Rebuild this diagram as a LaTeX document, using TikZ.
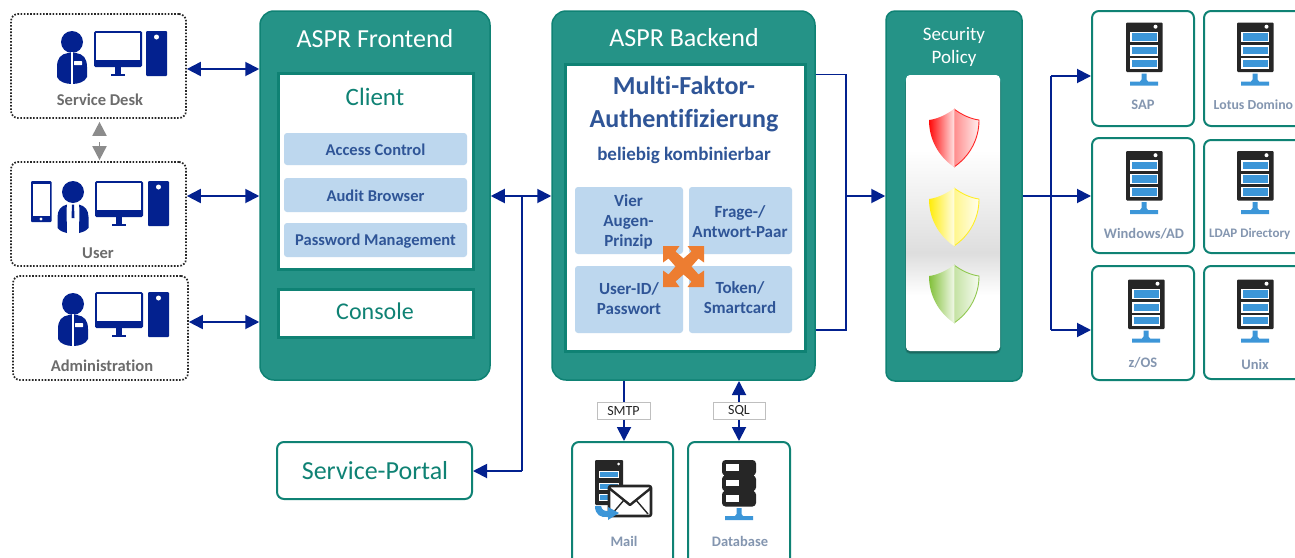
\documentclass[tikz,border=0pt]{standalone}
\usepackage{fontspec}
\setmainfont[Ligatures=NoCommon]{Carlito}
\usetikzlibrary{arrows.meta,calc}
\definecolor{teal1}{HTML}{259387}
\definecolor{teal2}{HTML}{0F8274}
\definecolor{navy}{HTML}{03218F}
\definecolor{cell}{HTML}{BDD7EE}
\definecolor{ctext}{HTML}{2F5597}
\definecolor{glabel}{HTML}{7F7F7F}
\definecolor{slabel}{HTML}{8496B0}
\definecolor{dark}{HTML}{262626}
\definecolor{netblue}{HTML}{3C96D8}
\definecolor{orng}{HTML}{ED7D31}
\definecolor{shgreen}{HTML}{7DBE32}
\definecolor{shyellow}{HTML}{FFEB00}
\newcommand{\bx}[6]{%
  \pgfmathsetmacro{\bcx}{(#2+#4)/2}\pgfmathsetmacro{\bcy}{(#3+#5)/2}%
  \pgfmathsetmacro{\bw}{#4-#2}\pgfmathsetmacro{\bh}{#5-#3}%
  \node[#6,minimum width=\bw pt,minimum height=\bh pt] (#1) at (\bcx,\bcy) {};}
\newcommand{\monitor}[2]{\begin{scope}[shift={(#1,#2)}]
  \fill[navy,rounded corners=1.5] (0,0) rectangle (48,36);
  \fill[white] (2,2) rectangle (46,28.5);
  \fill[navy] (21,36) rectangle (27,43);
  \fill[navy] (17,43) rectangle (31,45);
\end{scope}}
\newcommand{\tower}[2]{\begin{scope}[shift={(#1,#2)}]
  \fill[navy,rounded corners=1] (0,0) rectangle (21,45);
  \fill[white] (10.5,6) circle (2.5);
\end{scope}}
\newcommand{\deskperson}[2]{\begin{scope}[shift={(#1,#2)}]
  \fill[navy] (0,0) circle (11);
  \fill[navy] (-4,11) .. controls (-11,12) and (-15,16) .. (-15,25) -- (-15,35) .. controls (-13,40) and (-6,42) .. (0,42) .. controls (6,42) and (13,40) .. (15,35) -- (15,25) .. controls (15,16) and (11,12) .. (4,11) -- cycle;
  \fill[white] (-0.8,10) rectangle (0.8,43);
  \fill[white,rounded corners=0.5] (2,19) rectangle (10,23);
\end{scope}}
\newcommand{\tieperson}[2]{\begin{scope}[shift={(#1,#2)}]
  \fill[navy] (0,0) circle (11);
  \fill[navy] (-6,12.5) .. controls (-12,14) and (-15.5,18) .. (-15.5,25) -- (-15.5,36) .. controls (-13,39) and (-10,40) .. (-6,41) .. controls (-6,30) and (-7,20) .. cycle;
  \fill[navy] (6,12.5) .. controls (12,14) and (15.5,18) .. (15.5,25) -- (15.5,36) .. controls (13,39) and (10,40) .. (6,41) .. controls (6,30) and (7,20) .. cycle;
  \fill[navy] (-1,12.5) -- (1,12.5) -- (1.5,26) -- (-1.5,26) -- cycle;
\end{scope}}
\newcommand{\netmark}[2]{\begin{scope}[shift={(#1,#2)}]
  \fill[netblue] (-2.5,0) -- (2.5,0) -- (2.5,6) -- (4,8) -- (14,8) -- (14,12) -- (-14,12) -- (-14,8) -- (-4,8) -- (-2.5,6) -- cycle;
\end{scope}}
\newcommand{\servericon}[2]{\begin{scope}[shift={(#1,#2)}]
  \fill[dark,rounded corners=1] (0,0) rectangle (36.5,49.5);
  \fill[white] (29.5,4.2) circle (2);
  \foreach \yy in {10,23.5,36.5}{
    \fill[netblue,draw=white,line width=1.1] (5,\yy) rectangle (31.5,\yy+9);}
  \netmark{18}{51}
\end{scope}}
\newcommand{\shield}[2]{\begin{scope}[shift={(954,#1)}]
  \begin{scope}
   \clip (0,0) .. controls (-8,6) and (-17,10) .. (-25,11) .. controls (-25,30) and (-16,47) .. (0,58) -- cycle;
   \shade[shading angle=60,left color=#2,middle color=#2!75!white,right color=#2!12!white] (-26,0) rectangle (0,58);
  \end{scope}
  \begin{scope}
   \clip (0,0) .. controls (8,6) and (17,10) .. (25,11) .. controls (25,30) and (16,47) .. (0,58) -- cycle;
   \shade[shading angle=100,left color=#2!45!white,right color=#2!5!white] (0,0) rectangle (26,58);
  \end{scope}
  \draw[#2!85!white,line width=0.9] (0,0) .. controls (8,6) and (17,10) .. (25,11) .. controls (25,30) and (16,47) .. (0,58);
  \draw[#2!35!white,line width=0.5] (0,0) -- (0,58);
\end{scope}}
\tikzset{
  arr/.style={navy,line width=1.9,-{Triangle[length=14pt,width=14pt]}},
  darr/.style={navy,line width=1.9,{Triangle[length=14pt,width=14pt]}-{Triangle[length=14pt,width=14pt]}},
  plain/.style={navy,line width=1.9},
  dotbox/.style={draw=black!85,line width=1.7,dash pattern=on 1.6pt off 1.6pt,rounded corners=7,fill=white,inner sep=0},
  tealbox/.style={draw=teal2,line width=1.5,fill=teal1,rounded corners=14,inner sep=0},
  tealbox2/.style={draw=teal2,line width=1.5,fill=teal1,rounded corners=9,inner sep=0},
  innerbox/.style={draw=teal2,line width=3,fill=white,inner sep=0},
  outbox/.style={draw=teal2,line width=2,fill=white,rounded corners=7,inner sep=0},
  cellbox/.style={fill=cell,rounded corners=3,inner sep=0},
  protobox/.style={draw=black!25,line width=0.8,fill=white,inner sep=0},
  graylbl/.style={text=glabel!85!black,font=\bfseries\fontsize{16.5}{18}\selectfont,inner sep=0},
  srvlbl/.style={text=slabel,font=\bfseries\fontsize{14.5}{16}\selectfont,inner sep=0},
  celllbl/.style={text=ctext,font=\bfseries\fontsize{17}{20}\selectfont,align=center,inner sep=0},
  listlbl/.style={text=ctext,font=\bfseries\fontsize{16.5}{20}\selectfont,inner sep=0},
  whitelbl/.style={text=white,font=\fontsize{26}{28}\selectfont,inner sep=0},
  teallbl/.style={text=teal2,font=\fontsize{25}{28}\selectfont,inner sep=0},
}
\begin{document}
\begin{tikzpicture}[x=1pt,y=-1pt]
\clip (0,0) rectangle (1295,557);
\fill[white] (0,0) rectangle (1295,557);
% left boxes
\bx{sd}{11}{14}{186}{118}{dotbox}
\bx{us}{11}{162}{186}{266}{dotbox}
\bx{ad}{13}{276}{188}{380}{dotbox}
\deskperson{72}{42}
\monitor{94}{31}
\tower{146}{31}
\node[graylbl] (sdl) at (100,100) {Service Desk};
\fill[navy,rounded corners=1] (31,181) rectangle (51.5,222);
\fill[white] (33,184) rectangle (49.5,215.5);
\fill[white] (41,219) circle (1.6);
\tieperson{73}{192}
\monitor{95}{181}
\tower{148}{181}
\node[graylbl] (usl) at (98,253) {User};
\deskperson{73}{304}
\monitor{95}{292}
\tower{148}{292}
\node[graylbl] (adl) at (102,366) {Administration};
% frontend
\bx{fe}{260}{11}{490}{380}{tealbox}
\node[whitelbl] (fet) at (375,39) {ASPR Frontend};
\bx{cl}{278}{73}{473}{269}{innerbox}
\node[teallbl] (clt) at (375,97) {Client};
\bx{c1}{284}{133}{467}{165}{cellbox}
\bx{c2}{284}{178}{467}{212}{cellbox}
\bx{c3}{284}{223}{467}{257}{cellbox}
\node[listlbl] at ([yshift=-1pt]c1.center) {Access Control};
\node[listlbl] at ([yshift=-1pt]c2.center) {Audit Browser};
\node[listlbl] at ([yshift=-1pt]c3.center) {Password Management};
\bx{co}{278}{289}{473}{337}{innerbox}
\node[text=teal2,font=\fontsize{24}{28}\selectfont,inner sep=0] (cot) at (375,311) {Console};
% backend
\bx{be}{552}{11}{815}{380}{tealbox}
\node[whitelbl] (bet) at (684,38) {ASPR Backend};
\bx{bi}{565}{64}{805}{351}{innerbox}
\node[text=ctext,font=\bfseries\fontsize{26}{33}\selectfont,align=center,inner sep=0] (mf) at (684,104) {Multi-Faktor-\\Authentifizierung};
\node[text=ctext,font=\bfseries\fontsize{19}{22}\selectfont,inner sep=0] (bk) at (684,155) {beliebig kombinierbar};
\bx{q1}{575}{187}{683}{254}{cellbox}
\bx{q2}{689}{187}{792}{254}{cellbox}
\bx{q3}{575}{266}{683}{333}{cellbox}
\bx{q4}{689}{266}{792}{333}{cellbox}
\node[celllbl] at (628.5,222) {Vier\\Augen-\\Prinzip};
\node[celllbl] at (740,222) {Frage-/\\Antwort-Paar};
\node[celllbl] at (629,299) {User-ID/\\Passwort};
\node[celllbl] at (740,298) {Token/\\Smartcard};
\fill[orng,shift={(683.5,266.5)}] (-20.5,-20.5) -- (-4,-20.5) -- (-8,-15) -- (0,-8) -- (8,-15) -- (4,-20.5) -- (20.5,-20.5) -- (20.5,-4) -- (15,-8) -- (8,0) -- (15,8) -- (20.5,4) -- (20.5,20.5) -- (4,20.5) -- (8,15) -- (0,8) -- (-8,15) -- (-4,20.5) -- (-20.5,20.5) -- (-20.5,4) -- (-15,8) -- (-8,0) -- (-15,-8) -- (-20.5,-4) -- cycle;
% security
\bx{se}{886}{11}{1022}{381}{tealbox2}
\node[text=white,font=\fontsize{19}{23}\selectfont,align=center,inner sep=0] (set) at (954,47) {Security\\Policy};
\fill[black,opacity=0.12,rounded corners=5] (905,78) rectangle (1001,354);
\fill[black,opacity=0.18,rounded corners=4] (906,78) rectangle (1000,353);
\fill[white,rounded corners=4] (906,75) rectangle (1000,351);
\begin{scope}
\clip[rounded corners=4] (906,75) rectangle (1000,351);
\shade[top color=white,bottom color=black!13] (906,150) rectangle (1000,253);
\shade[top color=black!13,bottom color=white] (906,253) rectangle (1000,295);
\end{scope}
\shield{109}{red}
\shield{188}{shyellow}
\shield{265}{shgreen}
% server boxes
\bx{s1}{1092}{11}{1194}{126}{outbox}
\bx{s2}{1204}{11}{1306}{126}{outbox}
\bx{s3}{1092}{138}{1194}{253}{outbox}
\bx{s4}{1204}{140}{1306}{253}{outbox}
\bx{s5}{1092}{266}{1194}{380}{outbox}
\bx{s6}{1204}{266}{1306}{379}{outbox}
\servericon{1126}{22.5}
\servericon{1237}{22.5}
\servericon{1126}{151}
\servericon{1237}{151}
\servericon{1128}{279.5}
\servericon{1237}{279.5}
\node[srvlbl] at (1143,105) {SAP};
\node[srvlbl,font=\bfseries\fontsize{13.8}{16}\selectfont,anchor=west] at (1213.5,105) {Lotus Domino};
\node[srvlbl] at (1144,234) {Windows/AD};
\node[srvlbl,font=\bfseries\fontsize{13}{16}\selectfont,anchor=west] at (1209,234) {LDAP Directory};
\node[srvlbl] at (1143,363) {z/OS};
\node[srvlbl] at (1255,364) {Unix};
% bottom boxes
\bx{ml}{572}{442}{673}{570}{outbox}
\bx{db}{688}{442}{790}{570}{outbox}
\bx{sv}{277}{442}{472}{499}{outbox}
\node[text=teal2,font=\fontsize{26}{28}\selectfont,inner sep=0] (svt) at (375,471) {Service-Portal};
\fill[dark,rounded corners=1] (595,460) rectangle (623,505);
\fill[white] (618.5,464) circle (1.5);
\foreach \yy in {471,483,494}{\fill[netblue,draw=white,line width=0.8] (599,\yy) rectangle (618,\yy+6);}
\draw[dark,line width=2.6,fill=white,rounded corners=2] (609,486) rectangle (651,516);
\draw[dark,line width=2.4,line join=round] (609,488) -- (630,505) -- (651,488);
\draw[dark,line width=1.4] (612,514) -- (624,500) (648,514) -- (636,500);
\fill[netblue] (595,506) -- (601,506) .. controls (602,510) and (604,511) .. (608,511) -- (608,507) -- (619,513) -- (608,520) -- (608,517) .. controls (601,518) and (595,515) .. (595,506) -- cycle;
\node[srvlbl] (mll) at (624,541) {Mail};
\fill[dark] (724,462) rectangle (754,504);
\foreach \yy in {460,475.5,491}{
  \fill[dark,rounded corners=3.5] (722,\yy) rectangle (756,\yy+15.5);
  \fill[white] (726,\yy+4) rectangle (739,\yy+10.5);}
\netmark{739}{508}
\node[srvlbl] (dbl) at (740,541) {Database};
% connectors
\draw[darr] ([yshift=-3pt]sd.east) -- ([yshift=-3pt]sd.east -| fe.west);
\draw[darr] ([yshift=18pt]us.east) -- ([yshift=18pt]us.east -| fe.west);
\draw[darr] ([yshift=6pt]ad.east) -- ([yshift=6pt]ad.east -| fe.west);
\coordinate (g0) at (99.5,142);
\coordinate (g1) at (99.5,135);
\draw[glabel!90!white,line width=1.9,-{Triangle[length=14pt,width=14pt]},shorten >=3pt] (g1) -- (sd.south -| g1);
\draw[glabel!90!white,line width=1.9,-{Triangle[length=14pt,width=14pt]},shorten >=1pt] (g0) -- (us.north -| g0);
\coordinate (j1) at (522,196);
\coordinate (j2) at (522,471);
\draw[darr] (fe.east |- j1) -- (be.west |- j1);
\draw[plain] (j1) -- (j2);
\draw[arr] (j2) -- (sv.east |- j2);
\coordinate (b1) at (846,74.5);
\coordinate (b2) at (846,330);
\coordinate (b3) at (846,196);
\draw[plain] (be.east |- b1) -- (b1) -- (b2) -- (be.east |- b2);
\draw[arr] (b3) -- (se.west |- b3);
\coordinate (c0) at (1051,196);
\coordinate (ct) at (1051,76);
\coordinate (cb) at (1051,330);
\draw[arr] (se.east |- c0) -- (s3.west |- c0);
\draw[plain] (ct) -- (cb);
\draw[arr] (ct) -- (s1.west |- ct);
\draw[arr] (cb) -- (s5.west |- cb);
\coordinate (m0) at (624,381);
\coordinate (d0) at (739,381);
\draw[arr] (m0) -- (ml.north -| m0);
\draw[darr] (d0) -- (db.north -| d0);
\bx{smtp}{597}{402}{650}{419}{protobox}
\bx{sql}{713}{402}{765}{419}{protobox}
\node[font=\fontsize{14}{15}\selectfont,inner sep=0,text=black!85] at (smtp) {SMTP};
\node[font=\fontsize{14}{15}\selectfont,inner sep=0,text=black!85] at (sql) {SQL};
\end{tikzpicture}
\end{document}
